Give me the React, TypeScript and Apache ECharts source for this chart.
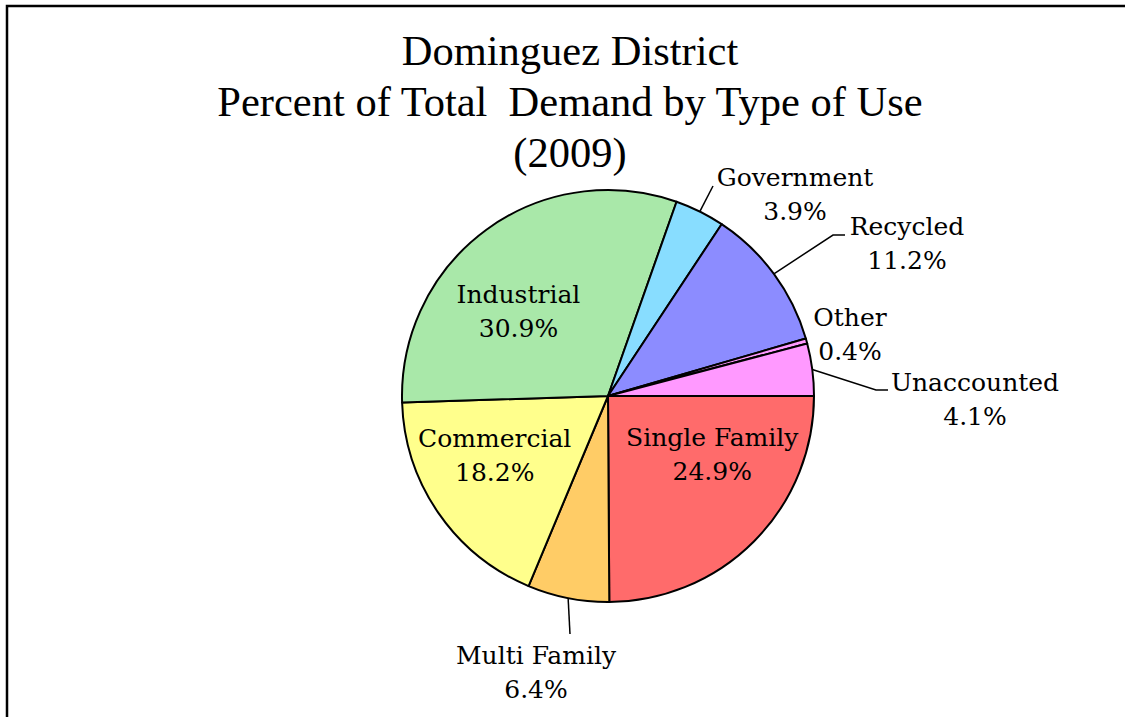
import React, { useEffect, useRef } from "react";
import * as echarts from "echarts";

const titleLines = ["Dominguez District", "Percent of Total  Demand by Type of Use", "(2009)"];
const categories = ["Single Family", "Multi Family", "Commercial", "Industrial", "Government", "Recycled", "Other", "Unaccounted"];
const values = [24.9, 6.4, 18.2, 30.9, 3.9, 11.2, 0.4, 4.1];
const colors = ["#FF6B6B", "#FFCC66", "#FFFF8C", "#A9E8A9", "#88DDFF", "#8C8CFF", "#FF99FF", "#FF99FF"];

// label placement (style only)
type Place =
  | { kind: "inside"; dx: number; dy: number }
  | { kind: "outside"; x: number; y: number; line: number[][] | null };
const placement: Record<string, Place> = {
  "Single Family": { kind: "inside", dx: 29, dy: -16 },
  "Multi Family": { kind: "outside", x: 536, y: 672, line: [[570, 634]] },
  Commercial: { kind: "inside", dx: -26, dy: -1 },
  Industrial: { kind: "inside", dx: -27, dy: 1 },
  Government: { kind: "outside", x: 795, y: 194, line: [[713, 186]] },
  Recycled: { kind: "outside", x: 907, y: 243, line: [[833, 235], [845, 235]] },
  Other: { kind: "outside", x: 850, y: 334, line: null },
  Unaccounted: { kind: "outside", x: 975, y: 399, line: [[876, 390], [888, 390]] },
};

const labelFont = "DejaVu Serif";

export default function App() {
  const ref = useRef<HTMLDivElement>(null);
  useEffect(() => {
    if (!ref.current) return;
    const chart = echarts.init(ref.current, null, { renderer: "svg" });
    const data = categories.map((name, i) => {
      const p = placement[name];
      return {
        name,
        value: values[i],
        itemStyle: { color: colors[i] },
        label: { position: p.kind === "inside" ? "inside" : "outside" },
        labelLine: { show: p.kind === "outside" && p.line !== null },
      };
    });
    chart.setOption({
      animation: false,
      backgroundColor: "#ffffff",
      title: {
        text: titleLines.join("\n"),
        left: 570,
        top: 25,
        padding: 0,
        textAlign: "center",
        textStyle: {
          fontFamily: "Liberation Serif",
          fontSize: 42.5,
          fontWeight: "normal",
          lineHeight: 51,
          color: "#000",
        },
      },
      graphic: [
        {
          type: "rect",
          shape: { x: 7, y: 6, width: 1300, height: 900 },
          style: { fill: "none", stroke: "#000", lineWidth: 2.5 },
          silent: true,
        },
      ],
      series: [
        {
          type: "pie",
          center: [608, 396],
          radius: 206,
          startAngle: 0,
          clockwise: true,
          avoidLabelOverlap: false,
          data,
          itemStyle: { borderColor: "#000", borderWidth: 2 },
          emphasis: { disabled: true },
          label: {
            formatter: (p: any) => `${p.name}\n${Number(p.value).toFixed(1)}%`,
            fontFamily: labelFont,
            fontSize: 25,
            lineHeight: 34,
            color: "#000",
            align: "center",
          },
          labelLine: {
            length: 20,
            length2: 10,
            lineStyle: { color: "#000", width: 1.5 },
          },
          labelLayout: (params: any) => {
            const name = categories[params.dataIndex];
            const p = placement[name];
            if (p.kind === "inside") {
              return { dx: p.dx, dy: p.dy };
            }
            const res: any = { x: p.x, y: p.y, align: "center", verticalAlign: "middle" };
            if (p.line && params.labelLinePoints) {
              const start = params.labelLinePoints[0];
              const pts = [start, ...p.line];
              if (pts.length < 3) pts.push(p.line[p.line.length - 1]);
              res.labelLinePoints = pts;
            }
            return res;
          },
        },
      ],
    });
    return () => chart.dispose();
  }, []);
  return <div ref={ref} style={{ position: "fixed", left: 0, top: 0, width: 1125, height: 717 }} />;
}
